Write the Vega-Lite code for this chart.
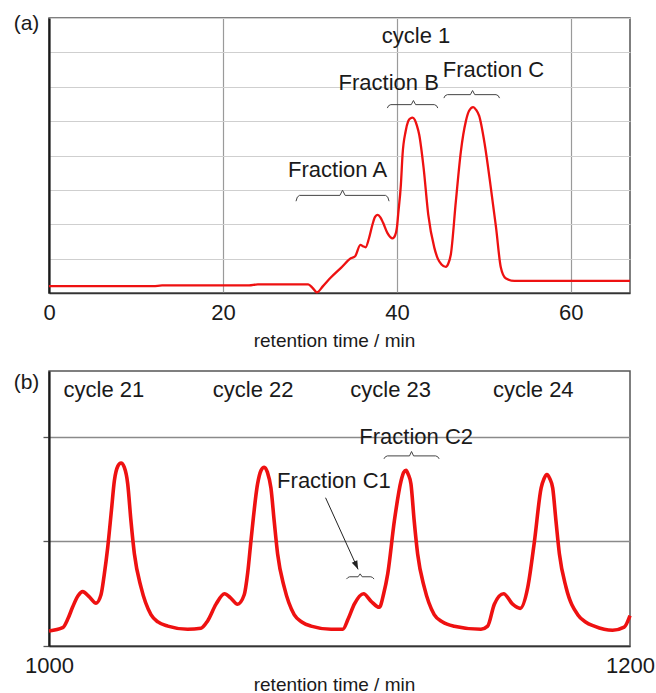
{
  "$schema": "https://vega.github.io/schema/vega-lite/v6.json",
  "padding": {"left": 12, "top": 11, "right": 5, "bottom": 0},
  "background": "white",
  "config": {
    "font": "Liberation Sans",
    "view": {"stroke": "#555", "strokeWidth": 1.5},
    "text": {"font": "Liberation Sans", "fontSize": 22, "color": "#1a1a1a"},
    "axis": {"labelFont": "Liberation Sans", "titleFont": "Liberation Sans", "labelColor": "#1a1a1a", "titleColor": "#1a1a1a", "titleFontWeight": "normal"}
  },
  "spacing": 19,
  "datasets": {
    "curveA": [
      {"t":0,"v":0.2},{"t":12,"v":0.2},{"t":13,"v":0.22},{"t":23,"v":0.22},{"t":24,"v":0.25},{"t":29.8,"v":0.25},{"t":30.3,"v":0.15},{"t":30.8,"v":0.02},{"t":31.5,"v":0.2},{"t":32.4,"v":0.45},{"t":33.6,"v":0.74},{"t":34.7,"v":1.01},{"t":35.2,"v":1.07},{"t":35.8,"v":1.4},{"t":36.1,"v":1.36},{"t":36.4,"v":1.33},{"t":36.8,"v":1.6},{"t":37.2,"v":2.0},{"t":37.5,"v":2.22},{"t":37.8,"v":2.27},{"t":38.1,"v":2.2},{"t":38.4,"v":2.05},{"t":38.9,"v":1.75},{"t":39.5,"v":1.59},{"t":39.8,"v":1.68},{"t":40.0,"v":1.9},{"t":40.15,"v":2.3},{"t":40.46,"v":3.16},{"t":40.65,"v":4.03},{"t":41.0,"v":4.7},{"t":41.3,"v":5.0},{"t":41.55,"v":5.08},{"t":41.8,"v":5.1},{"t":42.05,"v":5.04},{"t":42.3,"v":4.87},{"t":42.56,"v":4.61},{"t":43.07,"v":3.64},{"t":43.6,"v":2.29},{"t":44.3,"v":1.32},{"t":44.7,"v":1.0},{"t":45.13,"v":0.83},{"t":45.63,"v":0.76},{"t":45.9,"v":0.85},{"t":46.2,"v":1.12},{"t":46.78,"v":2.67},{"t":47.36,"v":4.13},{"t":47.93,"v":5.0},{"t":48.3,"v":5.3},{"t":48.77,"v":5.41},{"t":49.1,"v":5.33},{"t":49.46,"v":5.15},{"t":50.1,"v":4.32},{"t":50.8,"v":3.06},{"t":51.4,"v":1.9},{"t":51.95,"v":0.74},{"t":52.5,"v":0.43},{"t":53.5,"v":0.35},{"t":66.8,"v":0.35}
    ],
    "notesA": [
      {"t":42.2,"v":7.49,"label":"cycle 1"},
      {"t":39.06,"v":6.1,"label":"Fraction B"},
      {"t":51.1,"v":6.48,"label":"Fraction C"},
      {"t":33.18,"v":3.58,"label":"Fraction A"}
    ],
    "bracesA": [
      {"brace":"A","t":28.4,"v":2.67},{"brace":"A","t":28.55,"v":2.79},{"brace":"A","t":28.8,"v":2.84},{"brace":"A","t":33.45,"v":2.84},{"brace":"A","t":33.75,"v":2.99},{"brace":"A","t":34.05,"v":2.84},{"brace":"A","t":38.7,"v":2.84},{"brace":"A","t":38.95,"v":2.79},{"brace":"A","t":39.1,"v":2.67},
      {"brace":"B","t":38.9,"v":5.38},{"brace":"B","t":39.05,"v":5.45},{"brace":"B","t":39.3,"v":5.48},{"brace":"B","t":41.65,"v":5.48},{"brace":"B","t":41.9,"v":5.6},{"brace":"B","t":42.15,"v":5.48},{"brace":"B","t":44.3,"v":5.48},{"brace":"B","t":44.55,"v":5.45},{"brace":"B","t":44.7,"v":5.38},
      {"brace":"C","t":45.4,"v":5.67},{"brace":"C","t":45.55,"v":5.74},{"brace":"C","t":45.8,"v":5.77},{"brace":"C","t":48.45,"v":5.77},{"brace":"C","t":48.7,"v":5.89},{"brace":"C","t":48.95,"v":5.77},{"brace":"C","t":51.4,"v":5.77},{"brace":"C","t":51.65,"v":5.74},{"brace":"C","t":51.8,"v":5.67}
    ],
    "curveB": [
      {"t":1000,"v":0.143},{"t":1004.7,"v":0.175},{"t":1006.5,"v":0.26},{"t":1008.1,"v":0.37},{"t":1010,"v":0.48},{"t":1011.6,"v":0.52},{"t":1013.9,"v":0.47},{"t":1016.2,"v":0.41},{"t":1017.9,"v":0.49},{"t":1019,"v":0.68},{"t":1020.2,"v":0.94},{"t":1021.5,"v":1.3},{"t":1022.5,"v":1.58},{"t":1023.7,"v":1.72},{"t":1024.8,"v":1.75},{"t":1025.9,"v":1.71},{"t":1027.1,"v":1.55},{"t":1028.2,"v":1.2},{"t":1029.4,"v":0.88},{"t":1031.7,"v":0.56},{"t":1035.1,"v":0.3},{"t":1037.5,"v":0.23},{"t":1040.9,"v":0.19},{"t":1047.7,"v":0.16},{"t":1052.3,"v":0.17},
      {"t":1054.6,"v":0.24},{"t":1057.5,"v":0.4},{"t":1060.4,"v":0.5},{"t":1062.5,"v":0.46},{"t":1064.9,"v":0.4},{"t":1067.2,"v":0.49},{"t":1068.4,"v":0.7},{"t":1069.5,"v":1.0},{"t":1071.8,"v":1.55},{"t":1073.0,"v":1.68},{"t":1074.1,"v":1.71},{"t":1075.2,"v":1.66},{"t":1076.4,"v":1.51},{"t":1077.5,"v":1.2},{"t":1078.7,"v":0.88},{"t":1081.0,"v":0.56},{"t":1084.4,"v":0.3},{"t":1087,"v":0.23},{"t":1090.2,"v":0.19},{"t":1097.1,"v":0.16},
      {"t":1101.1,"v":0.16},{"t":1103,"v":0.26},{"t":1105.1,"v":0.4},{"t":1108.3,"v":0.5},{"t":1110.8,"v":0.43},{"t":1113.7,"v":0.37},{"t":1115.2,"v":0.5},{"t":1116.6,"v":0.69},{"t":1118.9,"v":1.2},{"t":1121.2,"v":1.58},{"t":1122.1,"v":1.66},{"t":1122.9,"v":1.68},{"t":1123.7,"v":1.64},{"t":1124.6,"v":1.55},{"t":1125.7,"v":1.2},{"t":1126.9,"v":0.88},{"t":1129.2,"v":0.56},{"t":1132.6,"v":0.3},{"t":1135.5,"v":0.23},{"t":1139.5,"v":0.19},{"t":1148.7,"v":0.16},
      {"t":1151,"v":0.19},{"t":1153.3,"v":0.4},{"t":1156.5,"v":0.5},{"t":1159.6,"v":0.4},{"t":1162.2,"v":0.36},{"t":1164.8,"v":0.56},{"t":1167.1,"v":1.0},{"t":1169.4,"v":1.51},{"t":1170.4,"v":1.6},{"t":1171.4,"v":1.64},{"t":1172.4,"v":1.6},{"t":1173.4,"v":1.51},{"t":1174.5,"v":1.2},{"t":1175.7,"v":0.88},{"t":1178.0,"v":0.56},{"t":1182.0,"v":0.3},{"t":1184.7,"v":0.23},{"t":1187.7,"v":0.19},{"t":1194.0,"v":0.15},{"t":1198.0,"v":0.18},{"t":1200,"v":0.29}
    ],
    "notesB": [
      {"t":1018.9,"v":2.45,"label":"cycle 21"},
      {"t":1070.3,"v":2.45,"label":"cycle 22"},
      {"t":1117.6,"v":2.45,"label":"cycle 23"},
      {"t":1166.7,"v":2.45,"label":"cycle 24"},
      {"t":1126.4,"v":2.0,"label":"Fraction C2"},
      {"t":1098.1,"v":1.58,"label":"Fraction C1"}
    ],
    "bracesB": [
      {"brace":"C2","t":1115.3,"v":1.79},{"brace":"C2","t":1115.8,"v":1.81},{"brace":"C2","t":1116.5,"v":1.818},{"brace":"C2","t":1124.1,"v":1.818},{"brace":"C2","t":1124.8,"v":1.86},{"brace":"C2","t":1125.5,"v":1.818},{"brace":"C2","t":1133.1,"v":1.818},{"brace":"C2","t":1133.8,"v":1.81},{"brace":"C2","t":1134.3,"v":1.79},
      {"brace":"C1","t":1102.4,"v":0.64},{"brace":"C1","t":1102.9,"v":0.655},{"brace":"C1","t":1103.5,"v":0.662},{"brace":"C1","t":1106.4,"v":0.662},{"brace":"C1","t":1107.1,"v":0.69},{"brace":"C1","t":1107.8,"v":0.662},{"brace":"C1","t":1110.8,"v":0.662},{"brace":"C1","t":1111.4,"v":0.655},{"brace":"C1","t":1111.9,"v":0.64}
    ],
    "arrowB": [
      {"t":1095.2,"v":1.418},{"t":1106.4,"v":0.733}
    ],
    "arrowHeadB": [
      {"t":1106.4,"v":0.733}
    ]
  },
  "vconcat": [
    {
      "width": 581,
      "height": 275,
      "encoding": {
        "x": {"field": "t", "type": "quantitative", "scale": {"domain": [0, 66.8], "nice": false, "zero": false},
          "axis": {"values": [0, 20, 40, 60], "format": "d", "grid": true, "gridColor": "#9a9a9a", "gridWidth": 1.2, "ticks": false, "domain": true, "domainColor": "#333", "domainWidth": 1.5, "labelFontSize": 22, "labelPadding": 9, "labelFlush": false, "title": "retention time / min", "titleFontSize": 19, "titlePadding": 8, "titleX": 285}},
        "y": {"field": "v", "type": "quantitative", "scale": {"domain": [0, 8], "nice": false, "zero": false},
          "axis": {"values": [0, 1, 2, 3, 4, 5, 6, 7, 8], "grid": true, "gridColor": "#cfcfcf", "gridWidth": 1.2, "labels": false, "ticks": true, "tickSize": 6, "tickColor": "transparent", "domain": true, "domainColor": "#1a1a1a", "domainWidth": 2.2,
            "title": "(a)", "titleAngle": 0, "titleX": -23, "titleY": 5, "titleAlign": "center", "titleBaseline": "middle", "titleFontSize": 21}}
      },
      "layer": [
        {"data": {"name": "curveA"}, "mark": {"type": "line", "color": "#ee1111", "strokeWidth": 2.3, "interpolate": "monotone"}},
        {"data": {"name": "bracesA"}, "mark": {"type": "line", "color": "#444", "strokeWidth": 1}, "encoding": {"detail": {"field": "brace"}}},
        {"data": {"name": "notesA"}, "mark": {"type": "text", "align": "center", "baseline": "middle", "fontSize": 22}, "encoding": {"text": {"field": "label"}}}
      ]
    },
    {
      "width": 581,
      "height": 275,
      "encoding": {
        "x": {"field": "t", "type": "quantitative", "scale": {"domain": [1000, 1200], "nice": false, "zero": false},
          "axis": {"values": [1000, 1200], "format": "d", "grid": false, "ticks": false, "domain": true, "domainColor": "#333", "domainWidth": 1.5, "labelFontSize": 22, "labelPadding": 9, "labelFlush": false, "title": "retention time / min", "titleFontSize": 19, "titlePadding": -1, "titleX": 285}},
        "y": {"field": "v", "type": "quantitative", "scale": {"domain": [0, 2.63], "nice": false, "zero": false},
          "axis": {"values": [0, 1, 2], "grid": true, "gridColor": "#8a8a8a", "gridWidth": 1.3, "labels": false, "ticks": true, "tickSize": 6, "tickColor": "#555", "tickWidth": 1.3, "domain": true, "domainColor": "#1a1a1a", "domainWidth": 2.2,
            "title": "(b)", "titleAngle": 0, "titleX": -23, "titleY": 11, "titleAlign": "center", "titleBaseline": "middle", "titleFontSize": 21}}
      },
      "layer": [
        {"data": {"name": "curveB"}, "mark": {"type": "line", "color": "#ee1111", "strokeWidth": 3.6, "interpolate": "monotone"}},
        {"data": {"name": "bracesB"}, "mark": {"type": "line", "color": "#444", "strokeWidth": 1}, "encoding": {"detail": {"field": "brace"}}},
        {"data": {"name": "arrowB"}, "mark": {"type": "line", "color": "#222", "strokeWidth": 1}},
        {"data": {"name": "arrowHeadB"}, "mark": {"type": "point", "shape": "M-0.35,-1L0,0L0.35,-1Z", "filled": true, "color": "#222", "size": 300, "angle": 335.7, "opacity": 1}},
        {"data": {"name": "notesB"}, "mark": {"type": "text", "align": "center", "baseline": "middle", "fontSize": 22}, "encoding": {"text": {"field": "label"}}}
      ]
    }
  ]
}
